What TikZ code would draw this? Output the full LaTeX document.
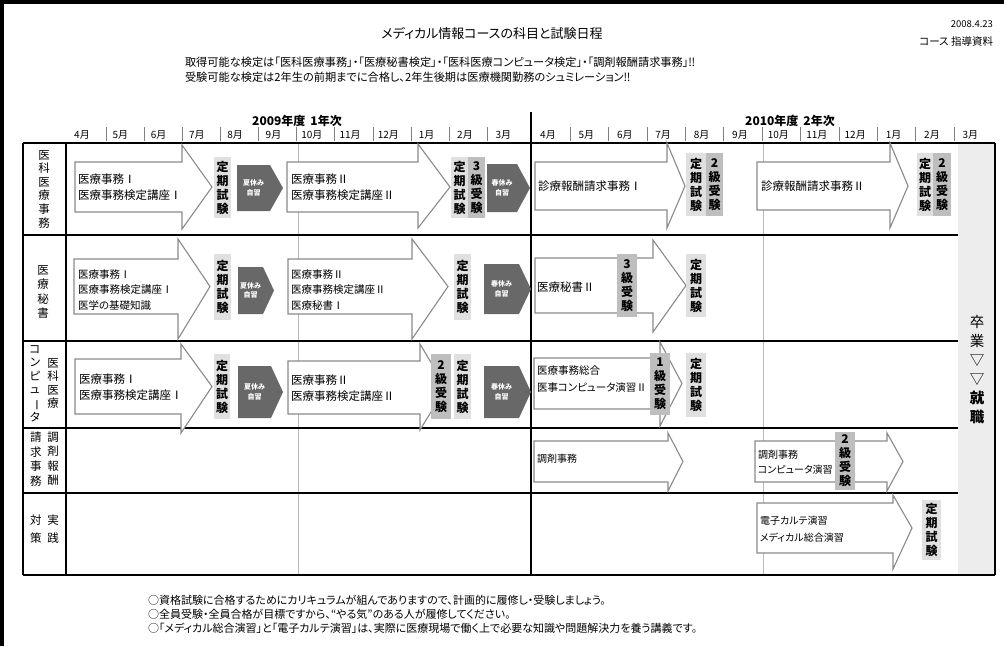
\documentclass[tikz,border=0pt]{standalone}
\usepackage{fontspec}
\usepackage{graphicx}
\setmainfont{Noto Sans CJK JP}[RawFeature={+palt}]
\definecolor{lightbox}{HTML}{E0E0E0}
\definecolor{midbox}{HTML}{BEBEBE}
\definecolor{darkp}{HTML}{686868}
\definecolor{arrowc}{HTML}{8A8A8A}
\definecolor{gridg}{HTML}{B8B8B8}
\definecolor{gradf}{HTML}{EDEDED}
\newcommand\setfs[2]{\fontsize{#1}{#2}\selectfont}
\newcommand\blockarr[7]{\draw[barrow] (#1,#4) -- (#2,#4) -- (#2,#6) -- (#3,{((#4)+(#5))/2}) -- (#2,#7) -- (#2,#5) -- (#1,#5) -- cycle;}
\newcommand\pentbox[7]{\fill[darkp] (#2,#5) -- (#3,#5) -- (#4,{((#5)+(#6))/2}) -- (#3,#6) -- (#2,#6) -- cycle;
  \node[ptext] (#1) at ({((#2)+(#3))/2},{((#5)+(#6))/2}) {#7};}
\newcommand\exbox[7]{\node[#1, minimum width={(#4)-(#3)}, minimum height={(#6)-(#5)}] (#2) at ({((#3)+(#4))/2},{((#5)+(#6))/2}) {#7};}
\begin{document}
\begin{tikzpicture}[x=1pt,y=-1pt,
  every node/.style={inner sep=0pt, outer sep=0pt},
  barrow/.style={draw=arrowc, line width=1.1pt, fill=white},
  ptext/.style={text=white, font=\bfseries\setfs{7}{9.5}, align=center},
  lbox/.style={fill=lightbox, font=\bfseries\setfs{12}{14}, align=center},
  mbox/.style={lbox, fill=midbox},
  ctext/.style={anchor=west, align=left, font=\setfs{11.5}{16}},
  vlabel/.style={font=\setfs{11.5}{13.6}, align=center},
  month/.style={font=\setfs{10}{11}},
  note/.style={anchor=west, font=\setfs{11}{12}},
  thickline/.style={line width=1.6pt},
  gridline/.style={draw=gridg, line width=0.8pt}]
\useasboundingbox (0,0) rectangle (1004,646);
% frame
\draw[line width=4pt] (1004,2) -- (2,2) -- (2,646);
% header texts
\node[font=\setfs{13}{15}] (title) at (492,33) {メディカル情報コースの科目と試験日程};
\node[anchor=east, font=\setfs{9.5}{11}] (date) at (993,24) {2008.4.23};
\node[anchor=east, font=\setfs{10.5}{12}] (doc) at (993,42) {コース 指導資料};
\node[anchor=west, font=\setfs{11.2}{12}] (sub1) at (185,62) {取得可能な検定は「医科医療事務」・「医療秘書検定」・「医科医療コンピュータ検定」・「調剤報酬請求事務」‼};
\node[anchor=west, font=\setfs{11.2}{12}] (sub2) at (185,77) {受験可能な検定は2年生の前期までに合格し、2年生後期は医療機関勤務のシュミレーション‼};
\node[font=\bfseries\setfs{12}{13}] (y1) at (297,121) {2009年度\hspace{5pt}1年次};
\node[font=\bfseries\setfs{12}{13}] (y2) at (790,121) {2010年度\hspace{5pt}2年次};
% months
\foreach \m [count=\i from 0] in {4月,5月,6月,7月,8月,9月,10月,11月,12月,1月,2月,3月}{
  \node[month] (ma\i) at ({82+38.3*\i},135) {\m};
  \node[month] (mb\i) at ({548+38.4*\i},135) {\m};
}
\foreach \i in {0,...,10}{
  \draw[gray] ({106+38.1*\i},127) -- ++(0,14);
  \draw[gray] ({570+38.4*\i},127) -- ++(0,14);
}
% graduation column
\fill[gradf] (958,143) rectangle (995,575);
% grid
\draw[gridline] (298,143) -- (298,575);
\draw[gridline] (763,143) -- (763,575);
\draw[thickline] (23,143) -- (995,143);
\draw[thickline] (23,575) -- (995,575);
\draw[thickline] (23,143) -- (23,575);
\draw[line width=1.2pt] (66,143) -- (66,575);
\draw[line width=1.2pt] (995,143) -- (995,575);
\foreach \yy in {235,341,428,493}{\draw[thickline] (23,\yy) -- (958,\yy);}
\draw[line width=2pt] (531,112) -- (531,575);
% row labels
\node[vlabel] (l1) at (44,189) {医\\科\\医\\療\\事\\務};
\node[vlabel, font=\setfs{11.5}{14.5}] (l2) at (43,292) {医\\療\\秘\\書};
\node[vlabel] (l3a) at (35,383.5) {コ\\ン\\ピ\\ュ\\\rotatebox[origin=c]{-90}{ー}\\タ};
\node[vlabel] (l3b) at (53,383.5) {医\\科\\医\\療};
\node[vlabel, font=\setfs{11.5}{14.5}] (l4a) at (36,459) {請\\求\\事\\務};
\node[vlabel, font=\setfs{11.5}{14.5}] (l4b) at (53,459) {調\\剤\\報\\酬};
\node[vlabel, font=\setfs{11.5}{18}] (l5a) at (36,529) {対\\策};
\node[vlabel, font=\setfs{11.5}{18}] (l5b) at (53,529) {実\\践};
% row 1
\blockarr{75}{182}{212}{162}{212}{145}{229}
\node[ctext] (a1t) at (78,187) {医療事務Ⅰ\\医療事務検定講座Ⅰ};
\exbox{lbox}{t1}{214}{231}{157}{218}{定\\期\\試\\験}
\pentbox{p1}{237}{270}{283}{165}{211}{夏休み\\自習}
\blockarr{287}{418}{450}{162}{212}{144}{228}
\node[ctext] (a2t) at (291,187) {医療事務Ⅱ\\医療事務検定講座Ⅱ};
\exbox{lbox}{t2}{451}{468}{157}{218}{定\\期\\試\\験}
\exbox{mbox}{k1}{468}{485}{157}{218}{3\\級\\受\\験}
\pentbox{p2}{487}{517}{530}{164}{212}{春休み\\自習}
\blockarr{535}{667}{685}{162}{210}{143}{228}
\node[ctext, font=\setfs{11.5}{15}] (a3t) at (538,186) {診療報酬請求事務Ⅰ};
\exbox{lbox}{t3}{686}{706}{153}{216}{定\\期\\試\\験}
\exbox{mbox}{k2}{706}{723}{153}{216}{2\\級\\受\\験}
\blockarr{757}{890}{908}{162}{210}{143}{228}
\node[ctext, font=\setfs{11.5}{15}] (a4t) at (761,186) {診療報酬請求事務Ⅱ};
\exbox{lbox}{t4}{917}{933}{153}{216}{定\\期\\試\\験}
\exbox{mbox}{k3}{933}{951}{153}{216}{2\\級\\受\\験}
% row 2
\blockarr{74}{178}{210}{259}{314}{239}{339}
\node[ctext, font=\setfs{10.5}{15.5}] (a5t) at (78,290) {医療事務Ⅰ\\医療事務検定講座Ⅰ\\医学の基礎知識};
\exbox{lbox}{t5}{214}{231}{254}{320}{定\\期\\試\\験}
\pentbox{p3}{238}{263}{274}{267}{314}{夏休み\\自習}
\blockarr{288}{412}{448}{259}{314}{239}{339}
\node[ctext, font=\setfs{10.5}{15.5}] (a6t) at (291,290) {医療事務Ⅱ\\医療事務検定講座Ⅱ\\医療秘書Ⅰ};
\exbox{lbox}{t6}{454}{471}{254}{320}{定\\期\\試\\験}
\pentbox{p4}{484}{519}{531}{264}{314}{春休み\\自習}
\blockarr{535}{653}{686}{258}{313}{240}{332}
\node[ctext, font=\setfs{11.5}{15}] (a9t) at (537,287) {医療秘書Ⅱ};
\exbox{mbox}{k5}{617}{637}{254}{317}{3\\級\\受\\験}
\exbox{lbox}{t9}{686}{706}{254}{317}{定\\期\\試\\験}
% row 3
\blockarr{75}{181}{212}{359}{414}{344}{433}
\node[ctext] (a7t) at (79,387) {医療事務Ⅰ\\医療事務検定講座Ⅰ};
\exbox{lbox}{t7}{214}{230}{354}{419}{定\\期\\試\\験}
\pentbox{p5}{238}{271}{283}{366}{418}{夏休み\\自習}
\blockarr{288}{420}{446}{361}{414}{344}{430}
\node[ctext] (a8t) at (291,388) {医療事務Ⅱ\\医療事務検定講座Ⅱ};
\exbox{mbox}{k4}{431}{451}{354}{419}{2\\級\\受\\験}
\exbox{lbox}{t8}{454}{471}{354}{419}{定\\期\\試\\験}
\pentbox{p6}{484}{519}{531}{366}{418}{春休み\\自習}
\blockarr{534}{660}{682}{358}{409}{342}{426}
\node[ctext, font=\setfs{10.5}{17}] (a10t) at (537,379) {医療事務総合\\医事コンピュータ演習Ⅱ};
\exbox{mbox}{k6}{650}{670}{353}{415}{1\\級\\受\\験}
\exbox{lbox}{t10}{686}{706}{353}{417}{定\\期\\試\\験}
% row 4
\blockarr{534}{668}{683}{441}{482}{433}{491}
\node[ctext, font=\setfs{10}{15}] (a11t) at (537,459) {調剤事務};
\blockarr{755}{887}{903}{441}{482}{433}{491}
\node[ctext, font=\setfs{10}{15}] (a12t) at (758,462) {調剤事務\\コンピュータ演習};
\exbox{mbox}{k7}{835}{855}{432}{490}{2\\級\\受\\験}
% row 5
\blockarr{757}{893}{912}{503}{553}{495}{569}
\node[ctext, font=\setfs{10}{17}] (a13t) at (760,529) {電子カルテ演習\\メディカル総合演習};
\exbox{lbox}{t11}{922}{941}{500}{560}{定\\期\\試\\験}
% graduation
\node[font=\setfs{14.5}{19}, align=center] (grad) at (977,370) {卒\\業\\▽\\▽\\\textbf{就}\\\textbf{職}};
% notes
\node[note] (n1) at (148,600) {○資格試験に合格するためにカリキュラムが組んでありますので、計画的に履修し・受験しましょう。};
\node[note] (n2) at (148,614) {○全員受験・全員合格が目標ですから、“やる気”のある人が履修してください。};
\node[note] (n3) at (148,628) {○「メディカル総合演習」と「電子カルテ演習」は、実際に医療現場で働く上で必要な知識や問題解決力を養う講義です。};
\end{tikzpicture}
\end{document}
